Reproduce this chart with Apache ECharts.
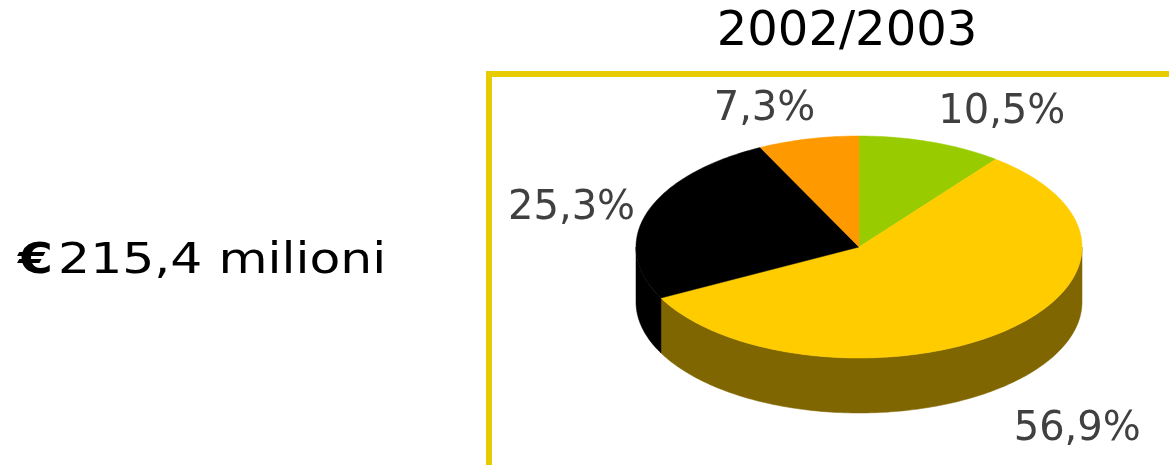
<!DOCTYPE html>
<html>
<head>
<meta charset="utf-8">
<script src="https://cdn.jsdelivr.net/npm/echarts@6/dist/echarts.min.js"></script>
<style>
html, body { margin: 0; padding: 0; background: #fff; }
#chart { width: 1169px; height: 465px; }
</style>
</head>
<body>
<div id="chart"></div>
<script>
// quote per segmento, anno 2002/2003 (%)
const segmentShares = [10.5, 56.9, 25.3, 7.3];
const topColors = ['#99CC00', '#FFCC00', '#000000', '#FF9900'];
const sideColors = ['#4D6600', '#806600', '#000000', '#804C00'];
const yearLabel = '2002/2003';
const totalLabel = '215,4 milioni';

// geometria della torta 3D
const cx = 859, cy = 247, rx = 223, ry = 111, depth = 55;
const total = segmentShares.reduce((a, b) => a + b, 0);
const starts = [];
let acc = 0;
segmentShares.forEach(v => { starts.push(acc / total * 360); acc += v; });

function pt(deg, dy) {
    const r = deg * Math.PI / 180;
    return [cx + rx * Math.sin(r), cy - ry * Math.cos(r) + (dy || 0)];
}
function arc(a0, a1, dy) {
    const pts = [];
    const n = Math.max(2, Math.ceil(a1 - a0));
    for (let i = 0; i <= n; i++) pts.push(pt(a0 + (a1 - a0) * i / n, dy));
    return pts;
}
function fmt(v) {
    return v.toFixed(1).replace('.', ',') + '%';
}

function renderSide(params, api) {
    const i = params.dataIndex;
    const a0 = starts[i], a1 = a0 + api.value(0) / total * 360;
    const s = Math.max(a0, 90), e = Math.min(a1, 270);
    if (s >= e) return { type: 'group', children: [] };
    const pts = arc(s, e, 0).concat(arc(s, e, depth).reverse());
    return {
        type: 'polygon',
        shape: { points: pts },
        style: { fill: sideColors[i], stroke: sideColors[i], lineWidth: 0.5 }
    };
}

function renderTop(params, api) {
    const i = params.dataIndex;
    const v = api.value(0);
    const a0 = starts[i], a1 = a0 + v / total * 360;
    const pts = [[cx, cy]].concat(arc(a0, a1, 0));
    // etichetta fuori dal bordo, allineata secondo il quadrante
    const mid = (a0 + a1) / 2;
    const r = mid * Math.PI / 180;
    const sn = Math.sin(r), cs = Math.cos(r);
    const p = pt(mid, cs < 0 ? depth : 0);
    let lx, ly;
    if (cs > 0.5) {
        lx = p[0] + 7;
        ly = p[1] - 9;
    } else if (cs < -0.5) {
        lx = p[0] + (sn >= 0 ? 12 : -12);
        ly = p[1] + 22;
    } else {
        lx = p[0] + (sn >= 0 ? 12 : -12);
        ly = p[1] - 4;
    }
    return {
        type: 'group',
        children: [{
            type: 'polygon',
            shape: { points: pts },
            style: { fill: topColors[i], stroke: topColors[i], lineWidth: 0.5 }
        }, {
            type: 'text',
            x: lx,
            y: ly,
            style: {
                text: fmt(v),
                fill: '#404040',
                font: '40px "DejaVu Sans"',
                align: sn >= 0 ? 'left' : 'right',
                verticalAlign: cs > 0.5 ? 'bottom' : (cs < -0.5 ? 'top' : 'middle')
            }
        }]
    };
}

var myChart = echarts.init(document.getElementById('chart'));
var option = {
    animation: false,
    backgroundColor: '#fff',
    graphic: [
        {
            type: 'rect',
            shape: { x: 489, y: 74, width: 700, height: 500 },
            style: { fill: 'none', stroke: '#E6CC00', lineWidth: 6 }
        },
        {
            type: 'text',
            x: 847,
            y: 33,
            style: {
                text: yearLabel,
                fill: '#000',
                font: '48px "DejaVu Sans"',
                align: 'center',
                verticalAlign: 'middle'
            }
        },
        {
            type: 'text',
            x: 18,
            y: 262,
            scaleX: 1.2,
            style: {
                text: '{e|€\u200A}' + totalLabel,
                fill: '#000',
                font: '42px "DejaVu Sans"',
                verticalAlign: 'middle',
                rich: {
                    e: { fontWeight: 'bold', fontSize: 42, fontFamily: 'DejaVu Sans', fill: '#000' }
                }
            }
        }
    ],
    series: [
        {
            type: 'custom',
            coordinateSystem: 'none',
            z: 1,
            renderItem: renderSide,
            data: segmentShares.map(v => [v])
        },
        {
            type: 'custom',
            coordinateSystem: 'none',
            z: 2,
            renderItem: renderTop,
            data: segmentShares.map(v => [v])
        }
    ]
};
myChart.setOption(option);
window.addEventListener('resize', () => {
    myChart.resize()
})
</script>
</body>
</html>
